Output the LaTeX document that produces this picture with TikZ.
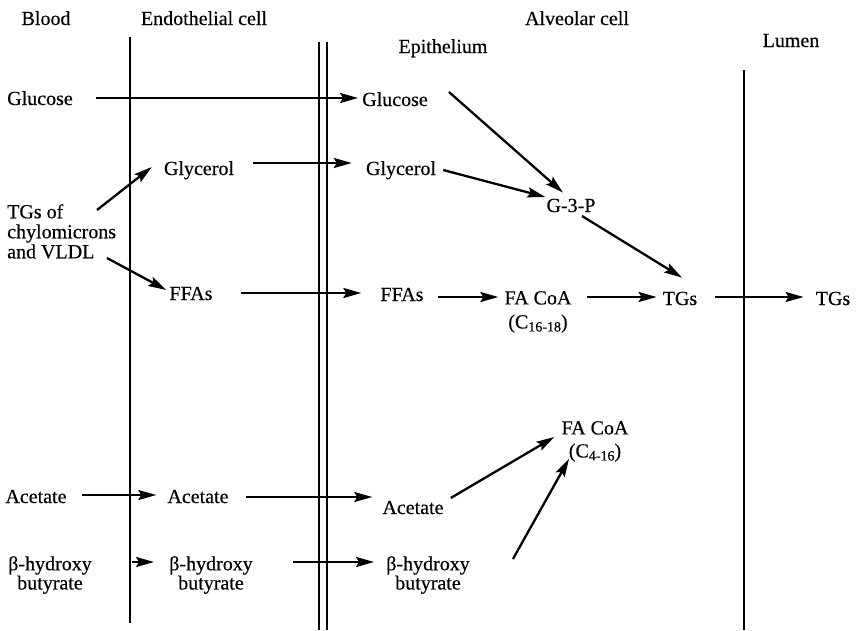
\documentclass[tikz,border=0pt]{standalone}
\usepackage{fontspec}
\setmainfont{Liberation Serif}[FakeBold=0.4]
\usetikzlibrary{arrows.meta,calc}
\begin{document}
\begin{tikzpicture}[x=1pt,y=-1pt,
  every node/.style={inner sep=0pt,font=\fontsize{20}{20}\selectfont},
  lbl/.style={anchor=base},
  ml/.style={anchor=north,align=center},
  arr/.style={line width=2.3pt,-{Stealth[length=18pt,width=10pt,inset=3pt]}},
  wall/.style={line width=1.8pt}]
\useasboundingbox (0,0) rectangle (857,630);
% walls
\draw[wall] (130,37) -- (130,623);
\draw[wall] (319,42) -- (319,630);
\draw[wall] (327,42) -- (327,630);
\draw[wall] (744,70) -- (744,630);
% headings
\node[lbl] (blood) at (46,25) {Blood};
\node[lbl] (endo) at (204,25) {Endothelial cell};
\node[lbl] (alv) at (577,25) {Alveolar cell};
\node[lbl] (epi) at (443,53) {Epithelium};
\node[lbl] (lumen) at (791,47) {Lumen};
% nodes
\node[lbl] (gluB) at (40,105) {Glucose};
\node[lbl] (gluA) at (395,106) {Glucose};
\node[lbl] (glyE) at (199,175) {Glycerol};
\node[lbl] (glyA) at (401,175) {Glycerol};
\node[anchor=north west,align=left] (tgB) at (7,204) {TGs of\\chylomicrons\\and VLDL};
\node[lbl] (ffaE) at (191,300) {FFAs};
\node[lbl] (ffaA) at (402,301) {FFAs};
\node[ml,font=\fontsize{20}{24}\selectfont] (facoa) at (538,291) {FA CoA\\(C\raisebox{-3pt}{\fontsize{14}{14}\selectfont 16-18})};
\node[lbl] (tgA) at (680,305) {TGs};
\node[lbl] (tgL) at (833,305) {TGs};
\node[lbl] (g3p) at (571,212) {G-3-P};
\node[lbl] (aceB) at (36,503) {Acetate};
\node[lbl] (aceE) at (198,503) {Acetate};
\node[lbl] (aceA) at (413,514) {Acetate};
\node[ml,font=\fontsize{20}{23}\selectfont] (fac2) at (595,421) {FA CoA\\(C\raisebox{-3pt}{\fontsize{14}{14}\selectfont 4-16})};
\node[ml,font=\fontsize{20}{18}\selectfont] (bhbB) at (50,556) {β-hydroxy\\butyrate};
\node[ml,font=\fontsize{20}{18}\selectfont] (bhbE) at (211,556) {β-hydroxy\\butyrate};
\node[ml,font=\fontsize{20}{18}\selectfont] (bhbA) at (428,556) {β-hydroxy\\butyrate};
% arrows
\draw[arr] ($(gluB.base east)+(23,-7)$) -- ($(gluA.base west)+(-4,-8)$);
\draw[arr] ($(glyE.base east)+(19,-12)$) -- ($(glyA.base west)+(-14,-12)$);
\draw[arr] ($(tgB.north west)+(90,6)$) -- ($(glyE.base west)+(-12,-8)$);
\draw[arr] ($(tgB.north west)+(100,54)$) -- ($(ffaE.base west)+(-3,-10)$);
\draw[arr] ($(ffaE.base east)+(28,-7)$) -- ($(ffaA.base west)+(-19,-8)$);
\draw[arr] ($(ffaA.base east)+(14,-4)$) -- ($(facoa.north west)+(-6,6)$);
\draw[arr] ($(facoa.north east)+(15,6)$) -- ($(tgA.base west)+(-6,-8)$);
\draw[arr] ($(tgA.base east)+(18,-8)$) -- ($(tgL.base west)+(-12,-8)$);
\draw[arr] ($(gluA.base east)+(21,-14)$) -- ($(g3p.north)+(-8,-6)$);
\draw[arr] ($(glyA.base east)+(7,-5)$) -- ($(g3p.base west)+(-1,-15)$);
\draw[arr] ($(g3p.base)+(11,4)$) -- ($(tgA.north)+(2,-14)$);
\draw[arr] ($(aceB.base east)+(15,-8)$) -- ($(aceE.base west)+(-11,-8)$);
\draw[arr] ($(aceE.base east)+(17,-6)$) -- ($(aceA.base west)+(-10,-17)$);
\draw[arr] ($(aceA.base east)+(7,-16)$) -- ($(fac2.north west)+(-7,16)$);
\draw[arr] ($(bhbB.north east)+(40,6)$) -- ($(bhbE.north west)+(-15,6)$);
\draw[arr] ($(bhbE.north east)+(40,6)$) -- ($(bhbA.north west)+(-12,6)$);
\draw[arr] ($(bhbA.north east)+(43,3)$) -- ($(fac2.south)+(-26,-3)$);
\end{tikzpicture}
\end{document}
